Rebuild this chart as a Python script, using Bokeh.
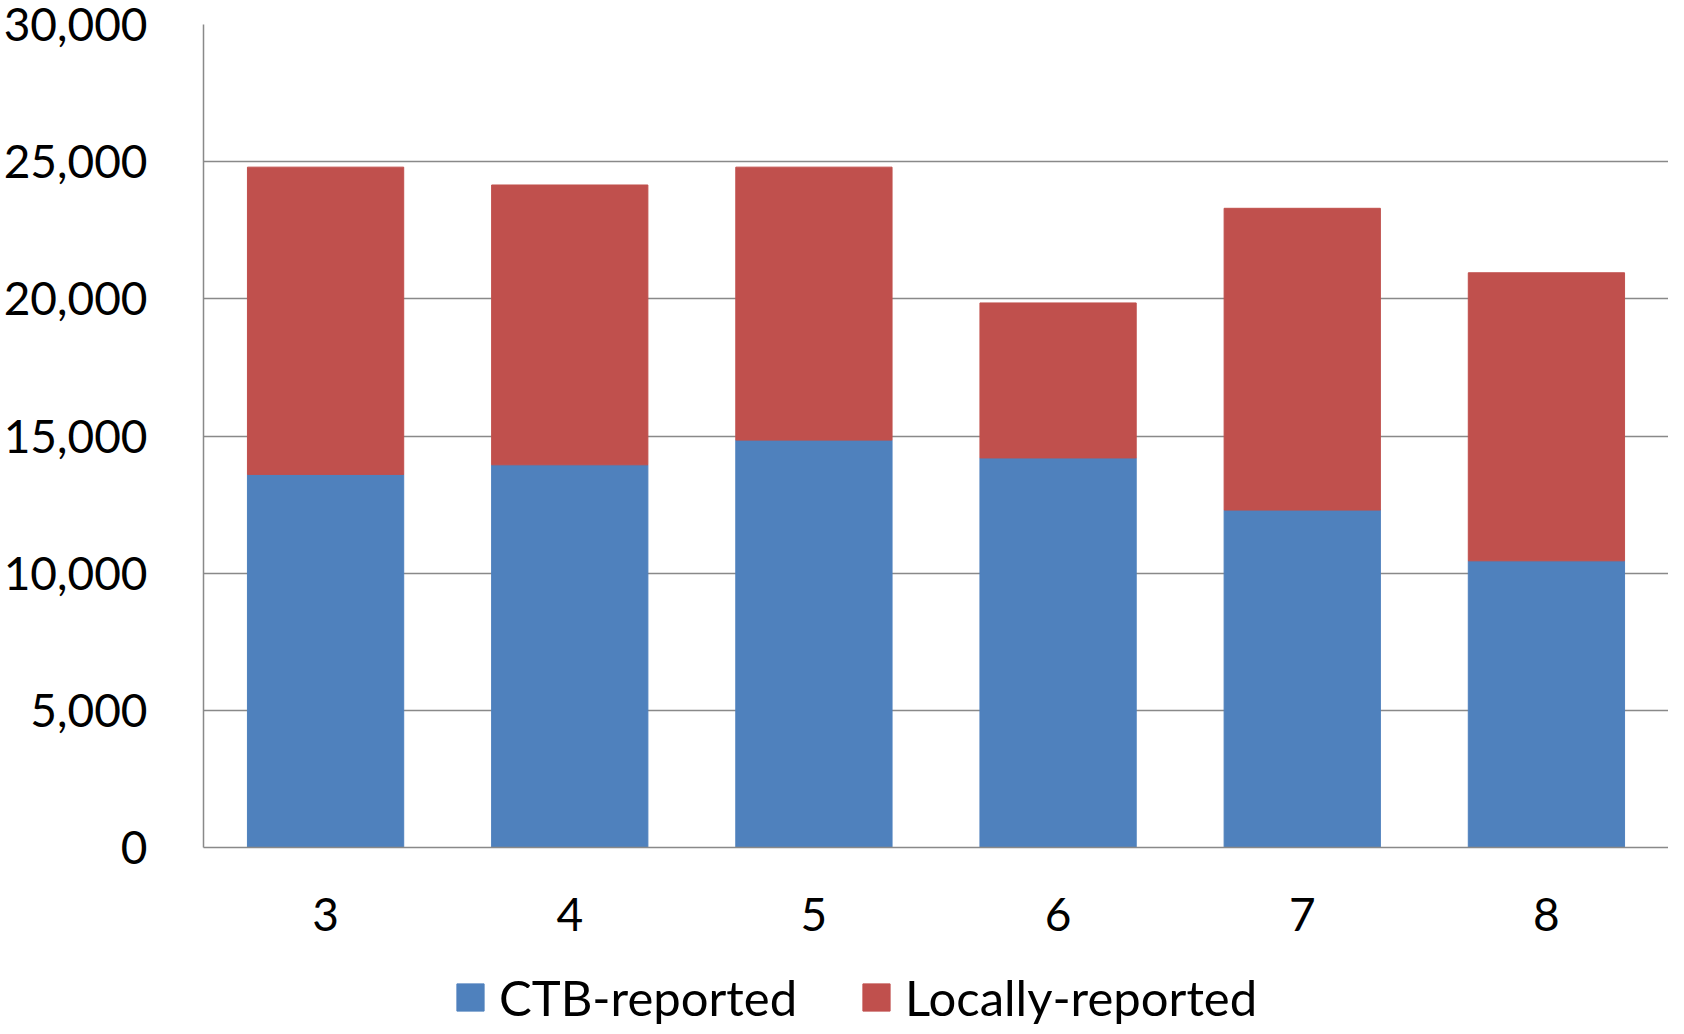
from bokeh.plotting import figure
from bokeh.layouts import column
from bokeh.models import FactorRange, Range1d, Legend, LegendItem, NumeralTickFormatter, FixedTicker, ColumnDataSource
from bokeh.embed import file_html
from bokeh.resources import INLINE

categories = ["3", "4", "5", "6", "7", "8"]
ctb_reported = [13600, 13950, 14850, 14200, 12300, 10450]
locally_reported = [11200, 10200, 9950, 5650, 11000, 10500]
series_names = ["CTB-reported", "Locally-reported"]
colors = ["#4F81BD", "#C0504D"]
y_ticks = [0, 5000, 10000, 15000, 20000, 25000, 30000]

source = ColumnDataSource(dict(cat=categories, ctb=ctb_reported, local=locally_reported))

FONT = "Lato"

p = figure(x_range=FactorRange(factors=categories, range_padding=0),
           y_range=Range1d(0, 30000),
           width=1668, height=947,
           output_backend="svg", toolbar_location=None,
           min_border_left=192, min_border_top=24, min_border_right=0, min_border_bottom=100)
p.outline_line_color = None
p.background_fill_color = "white"

r = p.vbar_stack(["ctb", "local"], x="cat", width=0.64, source=source,
                 color=colors, line_color=colors)

p.yaxis.ticker = FixedTicker(ticks=y_ticks)
p.yaxis.formatter = NumeralTickFormatter(format="0,0")
p.yaxis.major_label_text_font = FONT
p.yaxis.major_label_text_font_size = "46px"
p.yaxis.major_label_text_color = "black"
p.yaxis.major_label_standoff = 50
p.yaxis.axis_line_color = "#898989"
p.yaxis.axis_line_width = 1.5
p.yaxis.major_tick_line_color = None
p.yaxis.minor_tick_line_color = None

p.xaxis.major_label_text_font = FONT
p.xaxis.major_label_text_font_size = "46px"
p.xaxis.major_label_text_color = "black"
p.xaxis.major_label_standoff = 44
p.xaxis.axis_line_color = "#898989"
p.xaxis.axis_line_width = 1.5
p.xaxis.major_tick_line_color = None
p.xaxis.minor_tick_line_color = None

p.xgrid.grid_line_color = None
p.ygrid.grid_line_color = "#898989"
p.ygrid.grid_line_width = 1.5

# legend strip below the chart (swatch renderers use the real data, but sit outside
# this strip's view range so only their legend entries are visible)
lg = figure(width=1668, height=79, output_backend="svg", toolbar_location=None,
            x_axis_type=None, y_axis_type=None,
            min_border_left=0, min_border_right=0, min_border_top=0, min_border_bottom=0,
            x_range=Range1d(0, 1), y_range=Range1d(0, 1))
lg.outline_line_color = None
lg.xgrid.grid_line_color = None
lg.ygrid.grid_line_color = None
swatches = [lg.vbar(x=col, top=col, width=1, source=source,
                    fill_color=colors[i], line_color=colors[i])
            for i, col in enumerate(["ctb", "local"])]

legend = Legend(items=[LegendItem(label=series_names[i], renderers=[swatches[i]], index=0) for i in range(2)],
                orientation="horizontal", location=(250, 0),
                label_text_font=FONT, label_text_font_size="49px", label_text_color="black",
                glyph_width=34, glyph_height=34, label_standoff=12, spacing=62,
                border_line_color=None, background_fill_alpha=0,
                padding=0, margin=0)
lg.add_layout(legend, "center")

layout = column(p, lg, spacing=0)

open("out.html", "w").write(file_html(layout, INLINE))
